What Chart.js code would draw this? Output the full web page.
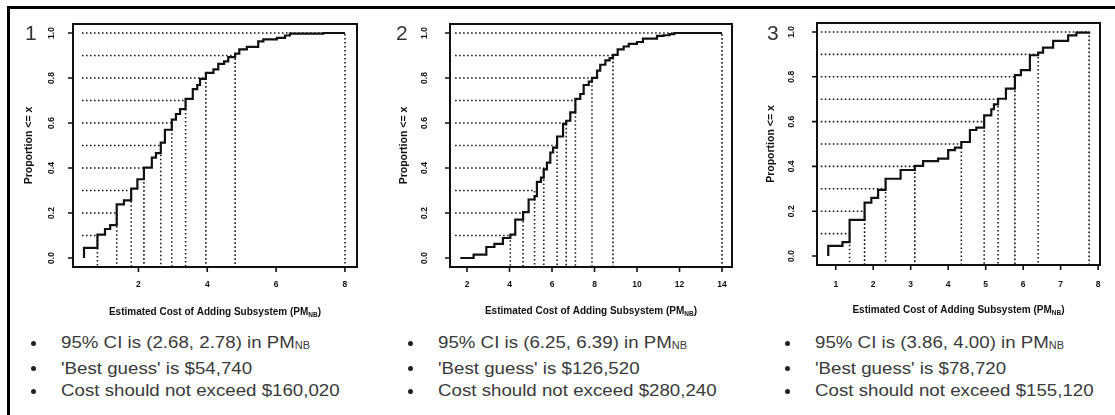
<!DOCTYPE html>
<html lang="en">
<head>
    <meta charset="UTF-8">
    <title>Estimated Cost of Adding Subsystem</title>
    <script src="https://cdn.jsdelivr.net/npm/chart.js"></script>
    <style>
        body { margin: 0; width: 1115px; height: 415px; background: #fff; position: relative; overflow: hidden;
               font-family: "Liberation Sans", Arial, sans-serif; }
        .outline { position: absolute; left: 7px; top: 6px; width: 1120px; height: 420px;
                   border-left: 3px solid #000; border-top: 3px solid #000; }
        canvas { position: absolute; top: 0; }
        .num { position: absolute; top: 22px; font-size: 21px; line-height: 21px; color: #333; }
        .notes { position: absolute; top: 332px; font-size: 17px; line-height: 22.5px; color: #3a3a3a; }
        .notes div { position: relative; white-space: nowrap; }
        .notes div::before { content: ""; position: absolute; left: -30.5px; top: 8.5px; width: 5px; height: 5px;
                             border-radius: 50%; background: #222; }
        .notes span { display: inline-block; transform: scaleX(1.1); transform-origin: left center; }
        .notes sub { font-size: 10px; vertical-align: -1px; }
    </style>
</head>
<body>
    <div class="outline"></div>

    <canvas id="chart1" width="360" height="330" style="left:10px"></canvas>
    <canvas id="chart2" width="360" height="330" style="left:380px"></canvas>
    <canvas id="chart3" width="365" height="330" style="left:750px"></canvas>

    <div class="num" style="left:25px">1</div>
    <div class="num" style="left:396px">2</div>
    <div class="num" style="left:767px">3</div>

    <div class="notes" style="left:61px">
        <div><span>95% CI is (2.68, 2.78) in PM<sub>NB</sub></span></div>
        <div><span>'Best guess' is $54,740</span></div>
        <div><span>Cost should not exceed $160,020</span></div>
    </div>
    <div class="notes" style="left:438px">
        <div><span>95% CI is (6.25, 6.39) in PM<sub>NB</sub></span></div>
        <div><span>'Best guess' is $126,520</span></div>
        <div><span>Cost should not exceed $280,240</span></div>
    </div>
    <div class="notes" style="left:815px">
        <div><span>95% CI is (3.86, 4.00) in PM<sub>NB</sub></span></div>
        <div><span>'Best guess' is $78,720</span></div>
        <div><span>Cost should not exceed $155,120</span></div>
    </div>

    <script>
        // proportion levels with dotted guide lines, and y axis ticks
        const probLevels = [0.1, 0.2, 0.3, 0.4, 0.5, 0.6, 0.7, 0.8, 0.9, 1.0];
        const yTickValues = [0, 0.2, 0.4, 0.6, 0.8, 1.0];
        const yTickLabels = ['0.0', '0.2', '0.4', '0.6', '0.8', '1.0'];

        // panel 1: step points of the empirical CDF (cost in PM)
        const step1X = [0.42, 0.42, 0.81, 1.03, 1.18, 1.37, 1.58, 1.79, 1.97, 2.16, 2.39, 2.51, 2.65, 2.77,
                        2.97, 3.09, 3.21, 3.37, 3.58, 3.71, 3.79, 3.96, 4.18, 4.32, 4.49, 4.61, 4.81, 4.93,
                        5.15, 5.48, 5.63, 6.02, 6.26, 6.40, 7.37, 8.00];
        const step1Y = [0, 0.045, 0.104, 0.129, 0.146, 0.238, 0.256, 0.308, 0.35, 0.402, 0.446, 0.466, 0.513, 0.57,
                        0.615, 0.64, 0.662, 0.707, 0.751, 0.769, 0.796, 0.823, 0.838, 0.863, 0.874, 0.893, 0.908, 0.927,
                        0.938, 0.963, 0.972, 0.978, 0.989, 0.997, 1.0, 1.0];
        const quant1X = [0.81, 1.37, 1.79, 2.16, 2.65, 2.97, 3.37, 3.96, 4.81, 8.00];
        const guide1Start = 0.36;
        const x1Ticks = [2, 4, 6, 8];

        // panel 2
        const step2X = [1.69, 2.31, 2.91, 3.29, 3.69, 4.04, 4.27, 4.64, 4.90, 5.18, 5.29, 5.48, 5.61, 5.76,
                        5.92, 6.05, 6.24, 6.52, 6.67, 6.86, 7.10, 7.33, 7.49, 7.73, 7.88, 8.12, 8.27, 8.51,
                        8.71, 8.87, 9.09, 9.37, 9.61, 10.00, 10.28, 10.94, 11.25, 11.53, 11.76, 14.00];
        const step2Y = [0, 0.015, 0.049, 0.0625, 0.089, 0.104, 0.171, 0.204, 0.26, 0.275, 0.338, 0.357, 0.394, 0.424,
                        0.469, 0.491, 0.54, 0.595, 0.61, 0.647, 0.707, 0.729, 0.769, 0.784, 0.801, 0.833, 0.859, 0.878,
                        0.888, 0.903, 0.927, 0.94, 0.952, 0.96, 0.975, 0.987, 0.99, 0.995, 1.0, 1.0];
        const quant2X = [4.04, 4.64, 5.18, 5.61, 6.24, 6.67, 7.10, 7.88, 8.87, 14.00];
        const guide2Start = 1.44;
        const x2Ticks = [2, 4, 6, 8, 10, 12, 14];

        // panel 3
        const step3X = [0.80, 0.80, 1.18, 1.37, 1.77, 1.95, 2.13, 2.33, 2.73, 3.11, 3.33, 3.73, 4.00, 4.18,
                        4.35, 4.58, 4.75, 4.96, 5.15, 5.22, 5.33, 5.54, 5.78, 5.94, 6.18, 6.40, 6.53, 6.80,
                        7.20, 7.42, 7.76];
        const step3Y = [0, 0.045, 0.0625, 0.161, 0.238, 0.26, 0.295, 0.345, 0.384, 0.402, 0.424, 0.435, 0.473, 0.484,
                        0.509, 0.5625, 0.573, 0.628, 0.655, 0.677, 0.702, 0.747, 0.807, 0.83, 0.896, 0.908, 0.93, 0.96,
                        0.985, 0.997, 1.0];
        const quant3X = [1.37, 1.77, 2.33, 3.11, 4.35, 4.96, 5.33, 5.78, 6.40, 7.76];
        const guide3Start = 0.60;
        const x3Ticks = [1, 2, 3, 4, 5, 6, 7, 8];

        const yMin = -0.04, yMax = 1.04;

        // frame, tick marks, rotated y labels and axis titles (R base-graphics look)
        const panelText = {
            id: 'panelText',
            afterDraw(chart, args, o) {
                const {ctx, chartArea: a, scales} = chart;
                ctx.save();
                ctx.setLineDash([]);
                ctx.globalAlpha = 1;
                ctx.strokeStyle = '#111';
                ctx.lineWidth = 2;
                ctx.beginPath();
                ctx.moveTo(a.left, a.top);
                ctx.lineTo(a.right, a.top);
                ctx.lineTo(a.right, a.bottom);
                ctx.lineTo(a.left, a.bottom);
                ctx.closePath();
                ctx.stroke();

                ctx.lineWidth = 1.6;
                ctx.beginPath();
                scales.x.ticks.forEach(t => {
                    const px = scales.x.getPixelForValue(t.value);
                    ctx.moveTo(px, a.bottom);
                    ctx.lineTo(px, a.bottom + 5);
                });
                yTickValues.forEach(v => {
                    const py = scales.y.getPixelForValue(v);
                    ctx.moveTo(a.left, py);
                    ctx.lineTo(a.left - 5, py);
                });
                ctx.stroke();

                ctx.fillStyle = '#111';
                ctx.textAlign = 'center';
                ctx.textBaseline = 'middle';
                ctx.font = 'bold 8.5px "Liberation Sans", Arial, sans-serif';
                yTickValues.forEach((v, i) => {
                    ctx.save();
                    ctx.translate(a.left - o.yLabelGap, scales.y.getPixelForValue(v));
                    ctx.rotate(-Math.PI / 2);
                    ctx.fillText(yTickLabels[i], 0, 0);
                    ctx.restore();
                });

                ctx.font = 'bold 10.5px "Liberation Sans", Arial, sans-serif';
                ctx.save();
                ctx.translate(a.left - o.yTitleGap, (a.top + a.bottom) / 2);
                ctx.rotate(-Math.PI / 2);
                ctx.fillText('Proportion <= x', 0, 0);
                ctx.restore();

                // x title with subscript
                const main = 'Estimated Cost of Adding Subsystem (PM';
                const big = 'bold 10px "Liberation Sans", Arial, sans-serif';
                const small = 'bold 6.5px "Liberation Sans", Arial, sans-serif';
                ctx.font = big;
                const w1 = ctx.measureText(main).width;
                const w3 = ctx.measureText(')').width;
                ctx.font = small;
                const w2 = ctx.measureText('NB').width;
                let x = (a.left + a.right) / 2 - (w1 + w2 + w3) / 2;
                const y = a.bottom + o.xTitleGap;
                ctx.textAlign = 'left';
                ctx.textBaseline = 'alphabetic';
                ctx.font = big;
                ctx.fillText(main, x, y + 3.5);
                ctx.font = small;
                ctx.fillText('NB', x + w1, y + 5.5);
                ctx.font = big;
                ctx.fillText(')', x + w1 + w2, y + 3.5);
                ctx.restore();
            }
        };

        function guidePoints(qx, start) {
            const pts = [];
            qx.forEach((q, i) => {
                pts.push({x: start, y: probLevels[i]}, {x: q, y: probLevels[i]}, {x: q, y: yMin}, {x: q, y: NaN});
            });
            return pts;
        }

        function makeChart(id, sx, sy, qx, gStart, ticks, xMin, xMax, lay) {
            return new Chart(document.getElementById(id), {
                type: 'line',
                data: {
                    datasets: [{
                        data: sx.map((x, i) => ({x: x, y: sy[i]})),
                        stepped: true,
                        borderColor: '#111',
                        borderWidth: 2.2,
                        pointRadius: 0,
                        fill: false
                    }, {
                        data: guidePoints(qx, gStart),
                        borderColor: '#1a1a1a',
                        borderWidth: 1.6,
                        borderDash: [1.6, 2.4],
                        pointRadius: 0,
                        fill: false
                    }]
                },
                options: {
                    responsive: false,
                    animation: false,
                    devicePixelRatio: 1,
                    layout: { padding: { left: 0, top: lay.padTop, right: lay.padRight, bottom: 0 } },
                    scales: {
                        x: {
                            type: 'linear', position: 'bottom', min: xMin, max: xMax,
                            afterBuildTicks: s => { s.ticks = ticks.map(v => ({value: v})); },
                            afterFit: s => { s.height = lay.xHeight; },
                            ticks: { font: { size: 8.5, weight: 'bold', family: '"Liberation Sans", Arial, sans-serif' },
                                     color: '#111', padding: lay.xLabelPad, maxRotation: 0, autoSkip: false },
                            grid: { display: false, drawTicks: true, tickLength: 5 },
                            border: { display: false }
                        },
                        y: {
                            type: 'linear', min: yMin, max: yMax,
                            afterBuildTicks: s => { s.ticks = yTickValues.map(v => ({value: v})); },
                            afterFit: s => { s.width = lay.yWidth; },
                            ticks: { display: false },
                            grid: { display: false },
                            border: { display: false }
                        }
                    },
                    plugins: {
                        legend: { display: false },
                        tooltip: { enabled: false },
                        panelText: { yLabelGap: lay.yLabelGap, yTitleGap: lay.yTitleGap, xTitleGap: lay.xTitleGap }
                    }
                },
                plugins: [panelText]
            });
        }

        makeChart('chart1', step1X, step1Y, quant1X, guide1Start, x1Ticks, 0.10, 8.35,
            { padTop: 24, padRight: 13, yWidth: 63, xHeight: 63, xLabelPad: 8, yLabelGap: 21, yTitleGap: 44, xTitleGap: 44 });
        makeChart('chart2', step2X, step2Y, quant2X, guide2Start, x2Ticks, 1.20, 14.47,
            { padTop: 24, padRight: 8, yWidth: 70, xHeight: 63, xLabelPad: 8, yLabelGap: 25, yTitleGap: 46, xTitleGap: 43 });
        makeChart('chart3', step3X, step3Y, quant3X, guide3Start, x3Ticks, 0.50, 8.05,
            { padTop: 23, padRight: 15, yWidth: 67, xHeight: 65, xLabelPad: 10, yLabelGap: 25, yTitleGap: 46, xTitleGap: 44 });
    </script>
</body>
</html>
